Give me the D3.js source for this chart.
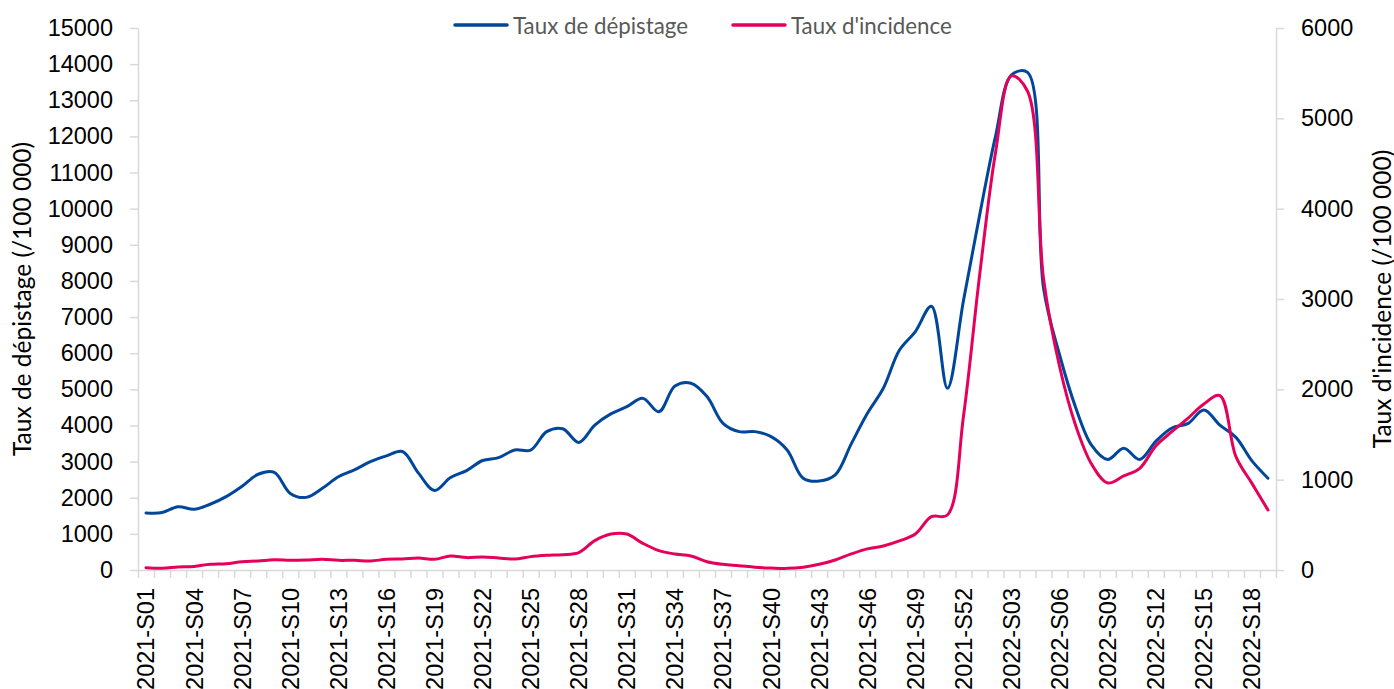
<!DOCTYPE html>
<html>
<head>
<meta charset="utf-8">
<script src="https://cdn.jsdelivr.net/npm/d3@7"></script>
<style>
  body { margin: 0; background: #fff; }
  svg { display: block; font-family: Lato, "Open Sans", sans-serif; }
  .axis path, .axis line { stroke: #d9d9d9; stroke-width: 1.5; }
  .axis text { fill: #000; font-size: 23.5px; }
  .legend text { fill: #595959; font-size: 22.3px; }
  .title { fill: #000; font-size: 24.5px; }
</style>
</head>
<body>
<script>
// weeks 2021-S01 .. 2022-S19
const weeks = d3.range(1, 53).map(w => "2021-S" + String(w).padStart(2, "0"))
  .concat(d3.range(1, 20).map(w => "2022-S" + String(w).padStart(2, "0")));

const depistage = [
  1580, 1590, 1750, 1680, 1820, 2030, 2320, 2650, 2700, 2120,
  2010, 2260, 2580, 2770, 3000, 3160, 3280, 2680, 2200, 2560,
  2750, 3030, 3110, 3320, 3320, 3830, 3910, 3530, 4010, 4320,
  4520, 4750, 4380, 5090, 5170, 4800, 4060, 3830, 3830, 3690,
  3320, 2540, 2460, 2630, 3490, 4330, 5030, 6080, 6600, 7300,
  5030, 7450, 9800, 12000, 13700, 13770, 7790, 5950, 4500, 3450,
  3060, 3370, 3060, 3560, 3930, 4050, 4430, 4010, 3670, 3020,
  2540
];

const incidence = [
  26, 20, 33, 40, 63, 70, 92, 100, 114, 107,
  110, 118, 107, 107, 100, 118, 122, 133, 118, 155,
  137, 144, 133, 122, 148, 162, 170, 192, 325, 398,
  398, 295, 214, 177, 155, 92, 63, 48, 30, 22,
  18, 30, 63, 111, 178, 234, 266, 322, 398, 590,
  609, 1700, 3250, 4620, 5470, 5300, 3220, 2250, 1600, 1170,
  963, 1041, 1126, 1373, 1531, 1679, 1838, 1930, 1255, 959,
  664
];

const leftTicks = d3.range(0, 15001, 1000);
const rightTicks = d3.range(0, 6001, 1000);

const series = [
  {name: "Taux de dépistage", values: depistage, color: "#00479b", axis: "left"},
  {name: "Taux d'incidence", values: incidence, color: "#e5005b", axis: "right"}
];

const width = 1394, height = 689;
const plot = {left: 138, right: 1276, top: 28, bottom: 570};

const svg = d3.select("body").append("svg")
  .attr("width", width)
  .attr("height", height);

const x = d3.scaleBand().domain(weeks).range([plot.left, plot.right]).padding(0);
const xEdge = d3.scaleLinear().domain([0, weeks.length]).range([plot.left, plot.right]);
const yLeft = d3.scaleLinear().domain([0, 15000]).range([plot.bottom, plot.top]);
const yRight = d3.scaleLinear().domain([0, 6000]).range([plot.bottom, plot.top]);

// x axis: marks between categories, labels every 3 weeks
svg.append("g").attr("class", "axis")
  .attr("transform", "translate(0," + plot.bottom + ")")
  .call(d3.axisBottom(xEdge).tickValues(d3.range(weeks.length + 1)).tickFormat("").tickSize(8).tickSizeOuter(0));

const xLab = svg.append("g").attr("class", "axis")
  .attr("transform", "translate(0," + plot.bottom + ")")
  .call(d3.axisBottom(x).tickValues(weeks.filter((d, i) => i % 3 == 0)).tickSize(0));
xLab.select(".domain").remove();
xLab.selectAll("text")
  .attr("transform", "rotate(-90)")
  .attr("x", -18)
  .attr("y", 0)
  .attr("dy", "0.36em")
  .style("text-anchor", "end");

svg.append("g").attr("class", "axis")
  .attr("transform", "translate(" + plot.left + ",0)")
  .call(d3.axisLeft(yLeft).tickValues(leftTicks).tickSize(8).tickSizeOuter(0).tickPadding(17).tickFormat(d3.format("d")));

svg.append("g").attr("class", "axis")
  .attr("transform", "translate(" + plot.right + ",0)")
  .call(d3.axisRight(yRight).tickValues(rightTicks).tickSize(8).tickSizeOuter(0).tickPadding(17).tickFormat(d3.format("d")));

// axis titles
svg.append("text").attr("class", "title")
  .attr("transform", "translate(21," + (plot.top + plot.bottom) / 2 + ") rotate(-90)")
  .attr("text-anchor", "middle")
  .attr("dominant-baseline", "central")
  .text("Taux de dépistage (/100 000)");

svg.append("text").attr("class", "title")
  .attr("transform", "translate(1381," + (plot.top + plot.bottom) / 2 + ") rotate(-90)")
  .attr("text-anchor", "middle")
  .attr("dominant-baseline", "central")
  .text("Taux d'incidence (/100 000)");

// lines (smoothed like the spreadsheet, centripetal to limit overshoot)
series.forEach(s => {
  const y = s.axis == "left" ? yLeft : yRight;
  const line = d3.line()
    .x((d, i) => x(weeks[i]) + x.bandwidth() / 2)
    .y(d => y(d))
    .curve(d3.curveCatmullRom.alpha(0.5));
  svg.append("path")
    .datum(s.values)
    .attr("fill", "none")
    .attr("stroke", s.color)
    .attr("stroke-width", 3)
    .attr("stroke-linejoin", "round")
    .attr("stroke-linecap", "round")
    .attr("d", line);
});

// legend
const legendX = [455, 733];
const legend = svg.append("g").attr("class", "legend");
series.forEach((s, i) => {
  const g = legend.append("g").attr("transform", "translate(" + legendX[i] + ",25)");
  g.append("line")
    .attr("x1", 0).attr("x2", 52)
    .attr("stroke", s.color).attr("stroke-width", 3.5).attr("stroke-linecap", "round");
  g.append("text")
    .attr("x", 58)
    .attr("dominant-baseline", "central")
    .text(s.name);
});
</script>
</body>
</html>
